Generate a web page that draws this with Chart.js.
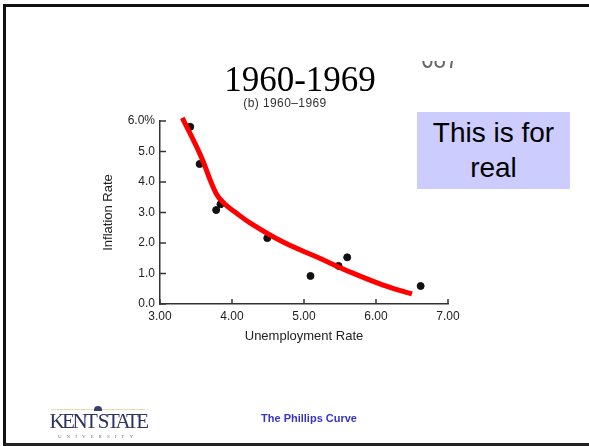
<!DOCTYPE html>
<html>
<head>
<meta charset="utf-8">
<script src="https://cdn.jsdelivr.net/npm/chart.js@4.4.1/dist/chart.umd.min.js"></script>
<style>
  html, body { margin: 0; padding: 0; background: #fff; }
  #slide { position: relative; width: 589px; height: 446px; overflow: hidden; background: #fff; }
  #frame { position: absolute; left: 3px; top: 4px; width: 600px; height: 436px;
           border-left: 3px solid #111; border-top: 3px solid #111; border-bottom: 3px solid #222; }
  #chartWrap { position: absolute; left: 0; top: 0; width: 589px; height: 446px; }
  #title { position: absolute; left: 0; width: 600px; top: 62px; text-align: center;
           font-family: "Liberation Serif", "DejaVu Serif", serif; font-size: 35px; color: #000; line-height: 1; }
  #sub { position: absolute; left: 230px; top: 96px; width: 110px; text-align: center; white-space: nowrap;
         font-family: "Liberation Sans", Arial, sans-serif; font-size: 12px; letter-spacing: 0.4px; color: #333; }
  #pageno { position: absolute; left: 421px; top: 61px; width: 50px; height: 11px; overflow: hidden; }
  #pageno span { position: absolute; left: 0; top: -17px; font-family: "Liberation Sans", Arial, sans-serif;
                 font-size: 28px; line-height: 30px; color: #666; transform: scaleX(0.8); transform-origin: 0 0; }
  #note { position: absolute; left: 417px; top: 112px; width: 153px; height: 77px; background: #ccccff;
          font-family: "Liberation Sans", Arial, sans-serif; font-size: 28px; line-height: 35px;
          text-align: center; color: #000; padding-top: 3px; box-sizing: border-box; }
  #footer { position: absolute; left: 250px; top: 412px; width: 118px; text-align: center;
            font-family: "Liberation Sans", Arial, sans-serif; font-weight: bold; font-size: 11px; color: #3535c8; }
  #logo { position: absolute; left: 47px; top: 404px; width: 102px; height: 40px; }
  #logo .bar { position: absolute; left: 4px; top: 5px; width: 94px; height: 1px; background: #e6dcb4; }
  #logo .dome { position: absolute; left: 47px; top: 2px; width: 8px; height: 5px; background: #3a4070;
                border-radius: 4px 4px 0 0; }
  #logo .name { position: absolute; left: 0; top: 7px; width: 102px; text-align: center; white-space: nowrap;
                font-family: "Liberation Serif", serif; font-size: 21px; letter-spacing: -2.5px;
                color: #2e3360; line-height: 1; }
  #logo .uni { position: absolute; left: 0; top: 30px; width: 102px; text-align: center; white-space: nowrap;
               font-family: "Liberation Serif", serif; font-size: 5px; letter-spacing: 5px; color: #777; }
</style>
</head>
<body>
<div id="slide">
  <div id="chartWrap"><canvas id="phillips" width="589" height="446"></canvas></div>
  <div id="frame"></div>
  <div id="title">1960-1969</div>
  <div id="sub">(b) 1960–1969</div>
  <div id="pageno"><span>687</span></div>
  <div id="note">This is for<br>real</div>
  <div id="logo">
    <div class="bar"></div>
    <div class="dome"></div>
    <div class="name">KENT STATE</div>
    <div class="uni">UNIVERSITY</div>
  </div>
  <div id="footer">The Phillips Curve</div>
</div>

<script>
// observed years 1960-1969: unemployment rate (x) and inflation rate (y)
var unemployment = [3.42, 3.55, 3.78, 3.84, 4.49, 5.09, 5.48, 5.60, 6.62];
var inflation    = [5.81, 4.59, 3.08, 3.27, 2.16, 0.92, 1.25, 1.53, 0.59];

// hand-drawn red curve
var curveX = [3.31, 3.56, 3.78, 3.90, 4.05, 4.25, 4.71, 5.18, 5.64, 6.10, 6.50];
var curveY = [6.10, 4.89, 3.62, 3.28, 3.00, 2.66, 2.03, 1.54, 1.05, 0.62, 0.33];

var xTicks = [3, 4, 5, 6, 7];
var yTicks = [0, 1, 2, 3, 4, 5, 6];

function pairs(xs, ys) {
    return xs.map(function(x, i) { return { x: x, y: ys[i] }; });
}

// ticks drawn inward from the axis lines, like the scanned figure
var innerTicks = {
    id: 'innerTicks',
    afterDraw: function(chart) {
        var ctx = chart.ctx;
        var xs = chart.scales.x, ys = chart.scales.y;
        ctx.save();
        ctx.strokeStyle = '#333';
        ctx.lineWidth = 1.5;
        xTicks.forEach(function(v) {
            var px = xs.getPixelForValue(v);
            ctx.beginPath();
            ctx.moveTo(px, ys.bottom);
            ctx.lineTo(px, ys.bottom - 5);
            ctx.stroke();
        });
        yTicks.forEach(function(v) {
            var py = ys.getPixelForValue(v);
            ctx.beginPath();
            ctx.moveTo(xs.left, py);
            ctx.lineTo(xs.left + 6, py);
            ctx.stroke();
        });
        ctx.restore();
    }
};

var tickFont = { family: 'Liberation Sans, Arial, sans-serif', size: 12 };
var titleFont = { family: 'Liberation Sans, Arial, sans-serif', size: 13 };

var ctx = document.getElementById('phillips').getContext('2d');
var chart = new Chart(ctx, {
    type: 'scatter',
    data: {
        datasets: [{
            label: 'curve',
            type: 'line',
            data: pairs(curveX, curveY),
            borderColor: '#ff0000',
            borderWidth: 5,
            pointRadius: 0,
            fill: false,
            tension: 0.4,
            clip: false
        }, {
            label: 'years',
            data: pairs(unemployment, inflation),
            backgroundColor: '#111',
            borderColor: '#111',
            pointRadius: 3.5,
            pointHoverRadius: 3.5
        }]
    },
    options: {
        responsive: false,
        animation: false,
        events: [],
        layout: {
            padding: { left: 100, top: 121, right: 141, bottom: 102 }
        },
        plugins: {
            legend: { display: false },
            tooltip: { enabled: false }
        },
        scales: {
            x: {
                type: 'linear',
                min: 3,
                max: 7,
                afterFit: function(scale) { scale.height = 40; },
                afterBuildTicks: function(scale) {
                    scale.ticks = xTicks.map(function(v) { return { value: v }; });
                },
                grid: { display: false, drawTicks: false },
                border: { display: true, color: '#333', width: 1.5 },
                ticks: {
                    padding: 5,
                    color: '#222',
                    font: tickFont,
                    callback: function(v) { return v.toFixed(2); }
                },
                title: {
                    display: true,
                    text: 'Unemployment Rate',
                    color: '#222',
                    font: titleFont,
                    padding: { top: 0, bottom: 0 }
                }
            },
            y: {
                type: 'linear',
                min: 0,
                max: 6,
                afterFit: function(scale) { scale.width = 60; },
                afterBuildTicks: function(scale) {
                    scale.ticks = yTicks.map(function(v) { return { value: v }; });
                },
                grid: { display: false, drawTicks: false },
                border: { display: true, color: '#333', width: 1.5 },
                ticks: {
                    padding: 5,
                    color: '#222',
                    font: tickFont,
                    callback: function(v) { return v === 6 ? '6.0%' : v.toFixed(1); }
                },
                title: {
                    display: true,
                    text: 'Inflation Rate',
                    color: '#222',
                    font: titleFont,
                    padding: { top: 1, bottom: 0 }
                }
            }
        }
    },
    plugins: [innerTicks]
});
</script>
</body>
</html>
